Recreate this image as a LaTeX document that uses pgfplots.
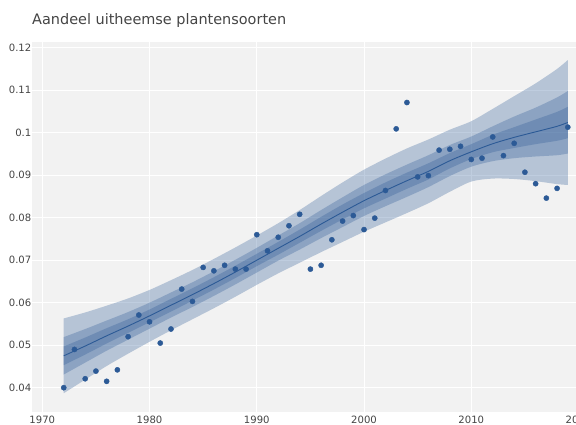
\documentclass[border=0pt]{standalone}
\usepackage{pgfplots}
\pgfplotsset{compat=1.18}
\usepackage{pgfplotstable}
\usepgfplotslibrary{fillbetween}
\usepackage{fontspec}
\setmainfont{DejaVu Sans}
\definecolor{bandc}{RGB}{44,90,150}
\definecolor{bgc}{RGB}{242,242,242}
\definecolor{txt}{RGB}{68,68,68}

\pgfplotstableread{
x y
1972 0.0400
1973 0.0490
1974 0.0421
1975 0.0439
1976 0.0415
1977 0.0442
1978 0.0520
1979 0.0571
1980 0.0555
1981 0.0505
1982 0.0538
1983 0.0632
1984 0.0603
1985 0.0683
1986 0.0675
1987 0.0688
1988 0.0679
1989 0.0679
1990 0.0760
1991 0.0722
1992 0.0754
1993 0.0781
1994 0.0808
1995 0.0679
1996 0.0688
1997 0.0748
1998 0.0792
1999 0.0805
2000 0.0772
2001 0.0799
2002 0.0864
2003 0.1009
2004 0.1071
2005 0.0896
2006 0.0899
2007 0.0959
2008 0.0961
2009 0.0968
2010 0.0937
2011 0.0940
2012 0.0990
2013 0.0946
2014 0.0975
2015 0.0907
2016 0.0880
2017 0.0846
2018 0.0869
2019 0.1013
}\pts

\pgfplotstableread{
x l olo ohi mlo mhi ilo ihi
1972 0.0475 0.0387 0.0563 0.0431 0.0519 0.0453 0.0497
1974 0.0498 0.0419 0.0577 0.0459 0.0538 0.0478 0.0518
1976 0.0522 0.0451 0.0593 0.0487 0.0558 0.0504 0.0540
1978 0.0545 0.0480 0.0610 0.0513 0.0578 0.0529 0.0561
1980 0.0569 0.0508 0.0630 0.0539 0.0600 0.0554 0.0584
1982 0.0594 0.0535 0.0653 0.0565 0.0624 0.0579 0.0609
1984 0.0619 0.0561 0.0677 0.0590 0.0648 0.0605 0.0634
1986 0.0645 0.0587 0.0703 0.0616 0.0674 0.0631 0.0660
1988 0.0672 0.0614 0.0730 0.0643 0.0701 0.0658 0.0687
1990 0.0700 0.0642 0.0758 0.0671 0.0729 0.0686 0.0715
1992 0.0728 0.0669 0.0787 0.0699 0.0758 0.0713 0.0743
1994 0.0756 0.0694 0.0818 0.0725 0.0787 0.0741 0.0772
1996 0.0785 0.0719 0.0851 0.0752 0.0818 0.0769 0.0802
1998 0.0813 0.0743 0.0883 0.0778 0.0848 0.0796 0.0831
2000 0.0840 0.0767 0.0913 0.0804 0.0877 0.0822 0.0858
2002 0.0864 0.0789 0.0939 0.0827 0.0902 0.0845 0.0883
2004 0.0887 0.0811 0.0963 0.0849 0.0925 0.0868 0.0906
2006 0.0909 0.0834 0.0984 0.0872 0.0947 0.0890 0.0928
2008 0.0934 0.0861 0.1007 0.0898 0.0971 0.0916 0.0952
2010 0.0955 0.0885 0.1027 0.0920 0.0991 0.0938 0.0973
2012 0.0974 0.0892 0.1056 0.0933 0.1015 0.0954 0.0995
2014 0.0989 0.0891 0.1086 0.0940 0.1038 0.0964 0.1013
2016 0.1002 0.0886 0.1116 0.0944 0.1059 0.0973 0.1031
2018 0.1015 0.0879 0.1150 0.0947 0.1083 0.0981 0.1049
2019 0.1024 0.0877 0.1171 0.0951 0.1098 0.0987 0.1061
}\band

\begin{document}
\begin{tikzpicture}
\begin{axis}[
  at={(32bp,13bp)}, anchor=south west,
  scale only axis, width=562.6bp, height=370bp,
  xmin=1969.04, xmax=2021.5, ymin=0.03428, ymax=0.12134,
  axis background/.style={fill=bgc},
  axis line style={draw=none},
  major tick length=0pt,
  grid=major, major grid style={white, line width=0.85bp},
  xtick={1970,1980,1990,2000,2010,2020},
  xticklabels={1970,1980,1990,2000,2010,2020},
  ytick={0.04,0.05,0.06,0.07,0.08,0.09,0.1,0.11,0.12},
  yticklabels={0.04,0.05,0.06,0.07,0.08,0.09,0.1,0.11,0.12},
  ticklabel style={font=\fontsize{10.1}{12}\selectfont, text=txt, inner sep=0pt},
  xticklabel style={anchor=north, yshift=-3.6bp},
  yticklabel style={anchor=east, xshift=-0.5bp},
]
\addplot[name path=olo, draw=none, smooth, forget plot] table[x=x,y=olo]{\band};
\addplot[name path=ohi, draw=none, smooth, forget plot] table[x=x,y=ohi]{\band};
\addplot[fill=bandc, fill opacity=0.3, draw=none] fill between[of=ohi and olo];
\addplot[name path=mlo, draw=none, smooth, forget plot] table[x=x,y=mlo]{\band};
\addplot[name path=mhi, draw=none, smooth, forget plot] table[x=x,y=mhi]{\band};
\addplot[fill=bandc, fill opacity=0.3, draw=none] fill between[of=mhi and mlo];
\addplot[name path=ilo, draw=none, smooth, forget plot] table[x=x,y=ilo]{\band};
\addplot[name path=ihi, draw=none, smooth, forget plot] table[x=x,y=ihi]{\band};
\addplot[fill=bandc, fill opacity=0.3, draw=none] fill between[of=ihi and ilo];
\addplot[bandc, line width=0.9bp, smooth, no markers] table[x=x,y=l]{\band};
\addplot[only marks, mark=*, mark size=2.6bp, color=bandc] table[x=x,y=y]{\pts};
\end{axis}
\node[anchor=base west, inner sep=0pt, font=\fontsize{14.5}{17}\selectfont, text=txt] at (32bp,400.7bp) {Aandeel uitheemse plantensoorten};
\pgfresetboundingbox
\useasboundingbox (0,0) rectangle (576bp,425bp);
\end{tikzpicture}
\end{document}
